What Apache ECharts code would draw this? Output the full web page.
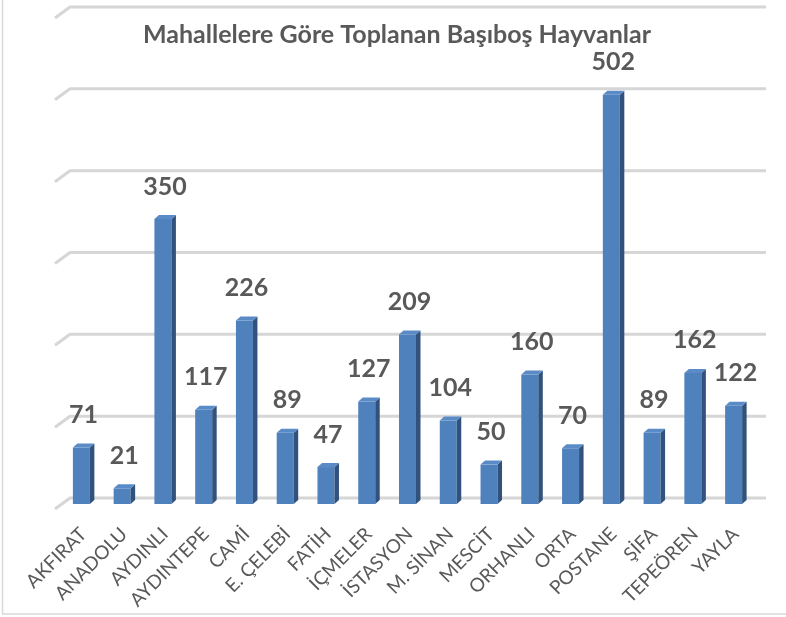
<!DOCTYPE html>
<html>
<head>
<meta charset="utf-8">
<script src="https://cdn.jsdelivr.net/npm/echarts@6/dist/echarts.min.js"></script>
<style>
  html, body { margin: 0; padding: 0; background: #ffffff; }
  #chart { width: 786px; height: 617px; }
</style>
</head>
<body>
<div id="chart"></div>
<script>
// Neighbourhoods and the number of stray animals collected in each
const mahalleler = ['AKFIRAT', 'ANADOLU', 'AYDINLI', 'AYDINTEPE', 'CAMİ', 'E. ÇELEBİ', 'FATİH', 'İÇMELER',
  'İSTASYON', 'M. SİNAN', 'MESCİT', 'ORHANLI', 'ORTA', 'POSTANE', 'ŞİFA', 'TEPEÖREN', 'YAYLA'];
const hayvanSayisi = [71, 21, 350, 117, 226, 89, 47, 127, 209, 104, 50, 160, 70, 502, 89, 162, 122];
// Value-axis ticks, drawn as gridlines on the back wall
const eksenDegerleri = [0, 100, 200, 300, 400, 500, 600];

const GRAY_TEXT = '#595959';
const FRONT = '#4f81bd';
const SIDE = '#30527d';
const TOP = '#5a8bc6';
const FONT = 'Lato, "Open Sans", sans-serif';

// 3D column: front face, right side face and top face
function renderBar(params, api) {
  const idx = api.value(0);
  const v = api.value(1);
  const base = api.coord([idx, 0]);
  const head = api.coord([idx, v]);
  const cx = base[0];
  const yBottom = base[1] + 6;
  const yTop = head[1] + 7.5;
  const hw = 8.5, dx = 4.5, dy = 4;
  return {
    type: 'group',
    children: [
      { type: 'rect', shape: { x: cx - hw, y: yTop, width: 2 * hw, height: yBottom - yTop },
        style: { fill: FRONT } },
      { type: 'polygon', shape: { points: [[cx + hw, yTop], [cx + hw + dx, yTop - dy], [cx + hw + dx, yBottom - dy], [cx + hw, yBottom]] },
        style: { fill: SIDE } },
      { type: 'polygon', shape: { points: [[cx - hw, yTop], [cx - hw + dx, yTop - dy], [cx + hw + dx, yTop - dy], [cx + hw, yTop]] },
        style: { fill: TOP } },
      { type: 'text', style: { text: String(v), x: cx + 2, y: head[1] - 25, align: 'center', verticalAlign: 'middle',
        font: 'bold 25px ' + FONT, fill: GRAY_TEXT } }
    ]
  };
}

// Back-wall gridline with the small slanted return on the side wall
function renderWall(params, api) {
  const y = api.coord([0, api.value(1)])[1];
  const cs = params.coordSys;
  const x0 = cs.x + 9;
  const x1 = cs.x + cs.width + 12;
  return {
    type: 'polyline',
    shape: { points: [[x0 - 15, y + 11], [x0, y], [x1, y]] },
    style: { stroke: '#d6d6d6', lineWidth: 3, fill: null, lineJoin: 'round' }
  };
}

const chart = echarts.init(document.getElementById('chart'), null, { renderer: 'canvas' });
chart.setOption({
  backgroundColor: '#ffffff',
  animation: false,
  title: {
    text: 'Mahallelere Göre Toplanan Başıboş Hayvanlar',
    left: 397, top: 22, textAlign: 'center', padding: 0,
    textStyle: { fontFamily: FONT, fontWeight: 'bold', fontSize: 25, color: GRAY_TEXT }
  },
  graphic: [{
    type: 'rect', shape: { x: 2.5, y: -1, width: 800, height: 615 },
    style: { fill: null, stroke: '#d9d9d9', lineWidth: 1.5 }, silent: true, z: -1
  }],
  grid: [
    { left: 61, right: 32, top: 7, bottom: 119 },
    { left: 63, right: 30, top: 7, bottom: 119 }
  ],
  xAxis: [
    { type: 'category', gridIndex: 0, data: mahalleler, axisLine: { show: false }, axisTick: { show: false },
      axisLabel: { show: false }, splitLine: { show: false } },
    { type: 'category', gridIndex: 1, data: mahalleler, axisLine: { show: false }, axisTick: { show: false },
      splitLine: { show: false },
      axisLabel: { interval: 0, rotate: 45, margin: 33, color: GRAY_TEXT, fontFamily: FONT, fontSize: 19 } }
  ],
  yAxis: [
    { type: 'value', gridIndex: 0, min: 0, max: 600, interval: 100, show: false, splitLine: { show: false } },
    { type: 'value', gridIndex: 1, min: 0, max: 600, show: false }
  ],
  series: [
    {
      type: 'custom', name: 'wall', xAxisIndex: 0, yAxisIndex: 0, z: 1, silent: true,
      renderItem: renderWall,
      data: eksenDegerleri.map(v => [0, v]),
      encode: { x: 0, y: 1 }
    },
    {
      type: 'custom', name: 'Başıboş Hayvanlar', xAxisIndex: 0, yAxisIndex: 0, z: 2,
      renderItem: renderBar,
      data: hayvanSayisi.map((v, i) => [i, v]),
      encode: { x: 0, y: 1 }
    }
  ]
});
</script>
</body>
</html>
